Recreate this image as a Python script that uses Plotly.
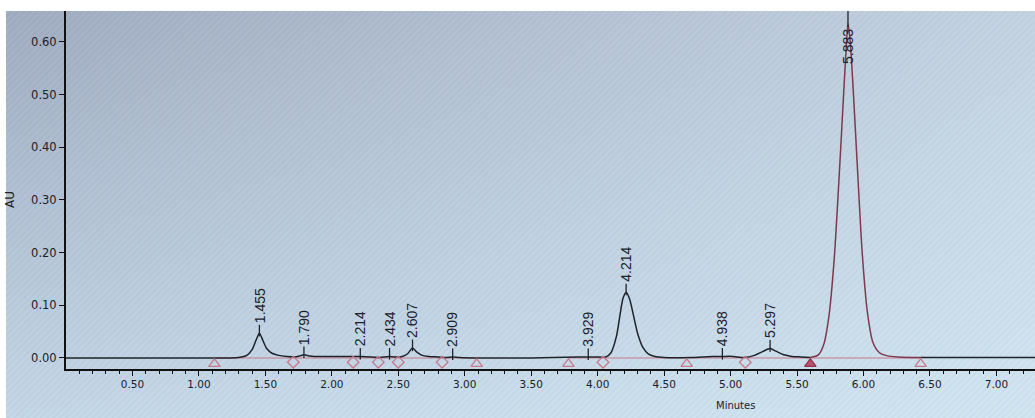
import base64
import struct
import zlib

import numpy as np
import plotly.graph_objects as go

# Detector trace: retention time (min) and absorbance (AU)
time_min = [
    0.00, 0.50, 1.00, 1.30, 1.36, 1.40, 1.43, 1.455, 1.48, 1.51, 1.55, 1.60,
    1.66, 1.72, 1.76, 1.790, 1.83, 1.87, 2.00, 2.10, 2.214, 2.30, 2.36, 2.40,
    2.434, 2.48, 2.53, 2.57, 2.607, 2.64, 2.68, 2.73, 2.80, 2.86, 2.909, 2.96,
    3.10, 3.50, 3.85, 3.929, 3.99, 4.06, 4.10, 4.14, 4.17, 4.19, 4.214, 4.24,
    4.27, 4.30, 4.34, 4.38, 4.43, 4.50, 4.70, 4.86, 4.938, 5.02, 5.10, 5.18,
    5.24, 5.297, 5.34, 5.40, 5.46, 5.53, 5.60, 5.66, 5.70, 5.74, 5.78, 5.82,
    5.85, 5.870, 5.883, 5.90, 5.92, 5.95, 5.99, 6.03, 6.07, 6.12, 6.18, 6.26,
    6.43, 7.00, 7.29,
]
absorbance = [
    0.000, 0.000, 0.000, 0.001, 0.005, 0.016, 0.034, 0.047, 0.034, 0.018, 0.009, 0.005,
    0.003, 0.002, 0.004, 0.006, 0.004, 0.003, 0.003, 0.003, 0.003, 0.002, 0.001, 0.002,
    0.003, 0.002, 0.003, 0.008, 0.019, 0.011, 0.005, 0.003, 0.002, 0.001, 0.002, 0.001,
    0.000, 0.000, 0.002, 0.002, 0.002, 0.002, 0.010, 0.040, 0.085, 0.113, 0.125, 0.112,
    0.080, 0.047, 0.020, 0.008, 0.003, 0.001, 0.001, 0.003, 0.003, 0.003, 0.001, 0.005,
    0.012, 0.018, 0.013, 0.006, 0.003, 0.002, 0.001, 0.006, 0.025, 0.080, 0.190, 0.360,
    0.500, 0.590, 0.635, 0.600, 0.520, 0.380, 0.200, 0.085, 0.030, 0.010, 0.004, 0.002,
    0.001, 0.001, 0.001,
]

# Integrated peaks: apex retention time and apex height
peak_rt = [1.455, 1.790, 2.214, 2.434, 2.607, 2.909, 3.929, 4.214, 4.938, 5.297, 5.883]
peak_au = [0.047, 0.006, 0.003, 0.003, 0.019, 0.002, 0.002, 0.125, 0.003, 0.018, 0.635]

# Integration start/end markers
triangle_rt = [1.117, 3.09, 3.78, 4.67, 6.43]
diamond_rt = [1.71, 2.16, 2.35, 2.50, 2.83, 4.04, 5.11]
main_peak_start = 5.60
main_peak_end = 6.43
baseline_from = [1.117, 3.78]
baseline_to = [3.09, 6.43]

x_ticks = [0.5, 1.0, 1.5, 2.0, 2.5, 3.0, 3.5, 4.0, 4.5, 5.0, 5.5, 6.0, 6.5, 7.0]
y_ticks = [0.0, 0.1, 0.2, 0.3, 0.4, 0.5, 0.6]

W, H = 1035, 418
ML, MR, MT, MB = 66, 0, 11, 49
PW, PH = W - ML - MR, H - MT - MB
X_RANGE = [0.0, 7.29]
Y_RANGE = [-0.0209, 0.6588]

INK = "#1b212b"
TRACE = "#1f2329"
MAROON = "#7d3a4e"
PINK = "#c77a8c"


def png_data_uri(rgb):
    h, w, _ = rgb.shape
    raw = b"".join(b"\x00" + rgb[i].tobytes() for i in range(h))

    def chunk(tag, data):
        return (struct.pack(">I", len(data)) + tag + data
                + struct.pack(">I", zlib.crc32(tag + data) & 0xFFFFFFFF))

    png = (b"\x89PNG\r\n\x1a\n"
           + chunk(b"IHDR", struct.pack(">IIBBBBB", w, h, 8, 2, 0, 0, 0))
           + chunk(b"IDAT", zlib.compress(raw, 9))
           + chunk(b"IEND", b""))
    return "data:image/png;base64," + base64.b64encode(png).decode()


# Screen backdrop: bluish-grey shading with a fine diagonal moire
bw, bh = W - 6, H - MT
u = np.linspace(0, 1, bw)[None, :, None]
v = np.linspace(0, 1, bh)[:, None, None]
c_tl = np.array([160, 172, 192.0])
c_tr = np.array([195, 210, 225.0])
c_bl = np.array([195, 214, 230.0])
c_br = np.array([208, 228, 240.0])
shade = (c_tl * (1 - u) * (1 - v) + c_tr * u * (1 - v)
         + c_bl * (1 - u) * v + c_br * u * v)
xx = np.arange(bw)[None, :]
yy = np.arange(bh)[:, None]
moire = (3.5 * np.sin(2 * np.pi * (xx + yy) / 6.5))[:, :, None]
backdrop = np.clip(shade + moire, 0, 255).astype(np.uint8)

t = np.array(time_min)
a = np.array(absorbance)
in_main = (t >= main_peak_start) & (t <= main_peak_end)
before = t <= main_peak_start
after = t >= main_peak_end

fig = go.Figure()

# integration baselines
bx, by = [], []
for s, e in zip(baseline_from, baseline_to):
    bx += [s, e, None]
    by += [0, 0, None]
fig.add_trace(go.Scatter(x=bx, y=by, mode="lines",
                         line=dict(color=PINK, width=1), hoverinfo="skip"))

for mask, col in ((before, TRACE), (in_main, MAROON), (after, TRACE)):
    fig.add_trace(go.Scatter(x=t[mask], y=a[mask], mode="lines",
                             line=dict(color=col, width=1.5, shape="spline",
                                       smoothing=0.7),
                             hoverinfo="skip"))

# apex tick marks
tx, ty = [], []
for rt, h in zip(peak_rt, peak_au):
    top = 0.70 if h > 0.5 else h + 0.016
    tx += [rt, rt, None]
    ty += [h - 0.006, top, None]
fig.add_trace(go.Scatter(x=tx, y=ty, mode="lines",
                         line=dict(color=TRACE, width=1.3), hoverinfo="skip"))

fig.add_trace(go.Scatter(
    x=triangle_rt, y=[-0.011] * len(triangle_rt), mode="markers",
    marker=dict(symbol="triangle-up-open", size=10, color=PINK,
                line=dict(width=1.3, color=PINK)),
    cliponaxis=False, hoverinfo="skip"))
fig.add_trace(go.Scatter(
    x=diamond_rt, y=[-0.008] * len(diamond_rt), mode="markers",
    marker=dict(symbol="diamond-open", size=9, color=PINK,
                line=dict(width=1.3, color=PINK)),
    cliponaxis=False, hoverinfo="skip"))
fig.add_trace(go.Scatter(
    x=[main_peak_start], y=[-0.011], mode="markers",
    marker=dict(symbol="triangle-up", size=10, color="#b5546c",
                line=dict(width=1.3, color="#9a3050")),
    cliponaxis=False, hoverinfo="skip"))

annotations = []
for rt, h in zip(peak_rt, peak_au):
    big = h > 0.5
    annotations.append(dict(
        x=rt, y=h, xref="x", yref="y", text=f"{rt:.3f}", showarrow=False,
        textangle=-90, xanchor="center",
        yanchor="top" if big else "bottom", yshift=-3 if big else 8,
        font=dict(family="Liberation Sans, Arial, sans-serif", size=14, color=INK)))

annotations.append(dict(
    x=(735 - ML) / PW, y=-(405 - (H - MB)) / PH, xref="paper", yref="paper",
    text="Minutes", showarrow=False, xanchor="center", yanchor="middle",
    font=dict(family="DejaVu Sans, sans-serif", size=10, color=INK)))
annotations.append(dict(
    x=(10 - ML) / PW, y=((H - MB) - 200) / PH, xref="paper", yref="paper",
    text="AU", showarrow=False, textangle=-90, xanchor="center", yanchor="middle",
    font=dict(family="DejaVu Sans, sans-serif", size=12, color=INK)))

minor_vals = [round(0.1 * i, 1) for i in range(1, 73)]

fig.update_layout(
    width=W, height=H,
    margin=dict(l=ML, r=MR, t=MT, b=MB, pad=0),
    paper_bgcolor="white", plot_bgcolor="rgba(0,0,0,0)",
    showlegend=False,
    annotations=annotations,
    images=[dict(source=png_data_uri(backdrop), xref="paper", yref="paper",
                 x=(6 - ML) / PW, y=1.0, sizex=bw / PW, sizey=bh / PH,
                 xanchor="left", yanchor="top", sizing="stretch", layer="below")],
    xaxis=dict(
        range=X_RANGE, showgrid=False, zeroline=False,
        showline=True, linecolor="#111", linewidth=1.6,
        tickmode="array", tickvals=x_ticks, ticktext=[f"{v:.2f}" for v in x_ticks],
        ticks="outside", ticklen=5, tickwidth=1.2, tickcolor="#111",
        tickfont=dict(family="DejaVu Sans, sans-serif", size=10.5, color=INK),
        minor=dict(tickmode="array", tickvals=minor_vals, ticks="outside",
                   ticklen=3, tickwidth=1.2, tickcolor="#111", showgrid=False),
    ),
    yaxis=dict(
        range=Y_RANGE, showgrid=False, zeroline=False,
        showline=True, linecolor="#111", linewidth=2,
        tickmode="array", tickvals=y_ticks, ticktext=[f"{v:.2f}" for v in y_ticks],
        ticks="outside", ticklen=5, tickwidth=1.2, tickcolor="#111",
        tickfont=dict(family="DejaVu Sans, sans-serif", size=11.5, color=INK),
    ),
)

fig.write_html("out.html")
